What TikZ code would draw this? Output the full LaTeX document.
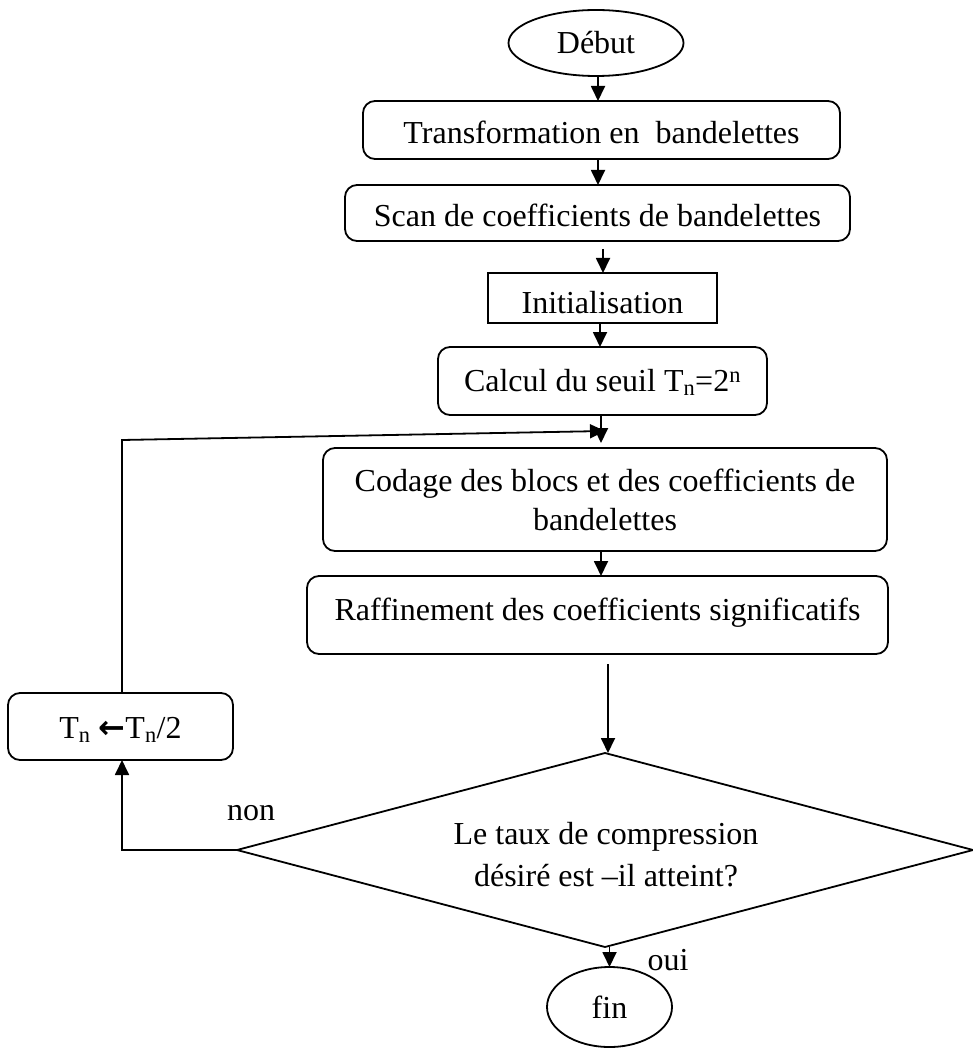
\documentclass[tikz,border=0pt]{standalone}
\usepackage{fontspec}
\setmainfont{Liberation Serif}
\newfontfamily\symfont{DejaVu Sans}
\usetikzlibrary{shapes.geometric,arrows.meta}

\begin{document}
\begin{tikzpicture}[x=1pt,y=-1pt,
  every node/.style={font={\fontsize{32}{39}\selectfont}, inner sep=0pt, outer sep=0pt},
  box/.style={draw, line width=1.8pt, rounded corners=12pt, align=center},
  sharpbox/.style={draw, line width=1.8pt},
  term/.style={draw, ellipse, line width=1.8pt},
  decision/.style={draw, diamond, line width=1.8pt, shape aspect=3.8},
  arr/.style={line width=1.8pt, -{Triangle[length=15pt,width=14pt]}}]

\useasboundingbox (0,0) rectangle (973,1048);

% flow steps
\node[term, minimum width=175pt, minimum height=66pt] (debut) at (596,43) {Début};
\node[box, minimum width=477pt, minimum height=58pt, text height=27pt, text depth=0pt]
  (b1) at (601.5,130) {Transformation en\ \ bandelettes};
\node[box, minimum width=505pt, minimum height=56pt, text height=28pt, text depth=0pt]
  (b2) at (597.5,213) {Scan de coefficients de bandelettes};
\node[sharpbox, minimum width=229pt, minimum height=50pt, text height=30pt, text depth=0pt]
  (b3) at (602.5,298) {Initialisation};
\node[box, minimum width=329pt, minimum height=68pt, text height=21pt, text depth=0pt]
  (b4) at (602.5,381) {Calcul du seuil T\textsubscript{n}=2\textsuperscript{n}};
\node[box, minimum width=564pt, minimum height=103pt]
  (b5) at (605,499.5) {Codage des blocs et des coefficients de\\bandelettes};
\node[box, minimum width=581pt, minimum height=78pt, text height=21pt, text depth=11pt]
  (b6) at (597.5,615) {Raffinement des coefficients significatifs};
\node[box, minimum width=225pt, minimum height=67pt, text height=24pt, text depth=0pt]
  (b7) at (120.5,726.5) {T\textsubscript{n} {\symfont\bfseries ←}T\textsubscript{n}/2};

% decision
\node[decision, minimum width=736pt, minimum height=194pt] (q) at (605,850) {};
\node[align=center, font={\fontsize{32}{42}\selectfont}] (qtext) at (606,855)
  {Le taux de compression\\désiré est –il atteint?};

\node[term, minimum width=125pt, minimum height=80pt] (fin) at (609.5,1007) {fin};

% branch labels
\node (non) at (251,813) {non};
\node (oui) at (668,960) {oui};

% loop corners
\coordinate (c1) at (122,440);
\coordinate (c2) at (605,431);

% connectors
\draw[arr] ([xshift=2pt]debut.south) -- ([xshift=2pt]debut.south |- b1.north);
\draw[arr] ([xshift=-3.5pt]b1.south) -- ([xshift=-3.5pt]b1.south |- b2.north);
\draw[arr, shorten <=8pt] ([xshift=0.5pt]b3.north |- b2.south) -- ([xshift=0.5pt]b3.north);
\draw[arr] ([xshift=-2.5pt]b3.south) -- ([xshift=-2.5pt]b3.south |- b4.north);
\draw[arr, shorten >=5pt] ([xshift=-1.5pt]b4.south) -- ([xshift=-1.5pt]b4.south |- b5.north);
\draw[arr] ([xshift=-4pt]b5.south) -- ([xshift=-4pt]b5.south |- b6.north);
\draw[arr, shorten <=10pt] ([xshift=3pt]q.north |- b6.south) -- ([xshift=3pt]q.north);
\draw[arr] (fin.north |- q.south) -- (fin.north);

% loop back: halve the threshold and start again
\draw[arr] (c1 |- b7.north) -- (c1) -- (c2);
\draw[arr] (q.west) -- (q.west -| c1) -- (c1 |- b7.south);
\end{tikzpicture}
\end{document}
